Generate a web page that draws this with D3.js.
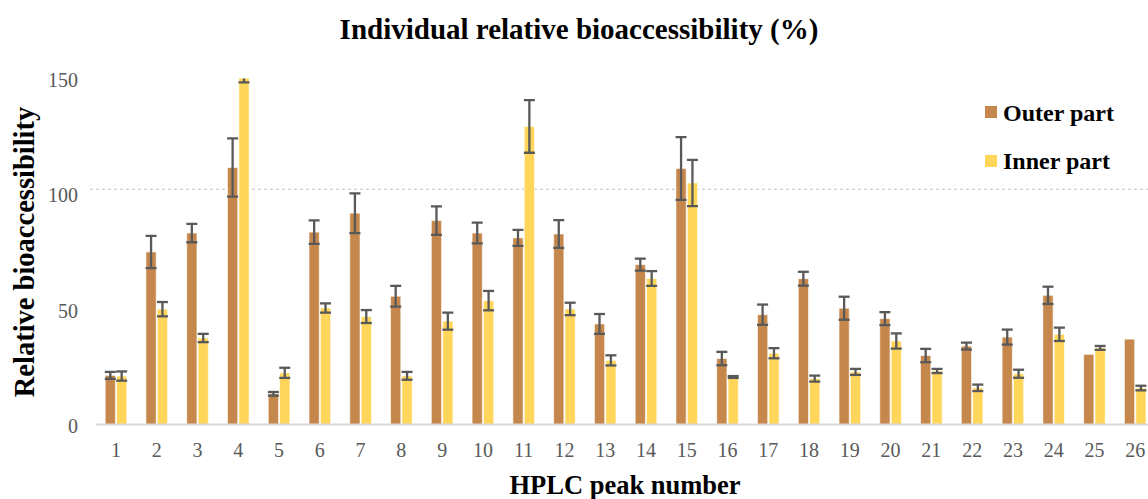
<!DOCTYPE html>
<html>
<head>
<meta charset="utf-8">
<script src="https://cdn.jsdelivr.net/npm/d3@7.9.0/dist/d3.min.js"></script>
<style>
  body { margin: 0; background: #fff; }
  svg { display: block; font-family: "Liberation Serif", "Times New Roman", serif; }
</style>
</head>
<body>
<svg id="chart" width="1148" height="499"></svg>
<script>
const peaks = d3.range(1, 27).map(String);
const series = ['Outer part', 'Inner part'];
const outerVals = [21.3, 74.8, 83, 111.4, 13.3, 83.4, 91.6, 55.6, 88.4, 83, 80.9, 82.6, 43.6, 69.3, 111, 28.6, 47.6, 63.2, 50.4, 45.9, 29.9, 34, 37.9, 56, 30.4, 37];
const outerErr  = [1.5, 7, 4, 12.6, 0.8, 5.1, 8.6, 4.5, 6.2, 4.5, 3.5, 6, 4.3, 2.6, 13.6, 2.9, 4.4, 3, 5, 2.8, 2.9, 1.5, 3.25, 3.75, 0, 0];
const innerVals = [21, 50, 37.5, 153, 22.4, 50.5, 46.8, 21.1, 44.8, 53.7, 129.2, 50.1, 27.8, 63.3, 104.7, 20.6, 30.9, 19.9, 22.8, 36.2, 23.2, 15.9, 22, 39.1, 33.2, 15.8];
const innerErr  = [2, 3.1, 1.8, 4.7, 2.2, 2, 2.8, 1.7, 3.7, 4.2, 11.4, 2.7, 2.2, 3.2, 10, 0.4, 2.2, 1.3, 1.3, 3.3, 0.9, 1.4, 1.75, 2.9, 0.85, 1];
const yTicks = [0, 50, 100, 150];
const refLine = 102;
const colors = ['#C5874B', '#FFD55A'];

const svg = d3.select('#chart');
const y = d3.scaleLinear().domain([0, 150]).range([424.5, 78.5]);
const x = d3.scaleBand().domain(peaks).range([95.6, 1155.6]).paddingInner(0.47).paddingOuter(0.235);
const xs = d3.scaleBand().domain(series).range([0, x.bandwidth()]).paddingInner(0.1);

const rows = [];
peaks.forEach((p, i) => {
    rows.push({ peak: p, s: series[0], v: outerVals[i], e: outerErr[i] });
    rows.push({ peak: p, s: series[1], v: innerVals[i], e: innerErr[i] });
});

// title
svg.append('text')
    .attr('x', 579).attr('y', 38.5)
    .attr('text-anchor', 'middle')
    .attr('font-size', 29).attr('font-weight', 'bold')
    .text('Individual relative bioaccessibility (%)');

// reference dotted line
svg.append('line')
    .attr('x1', 90).attr('x2', 1148)
    .attr('y1', y(refLine)).attr('y2', y(refLine))
    .attr('stroke', '#bfbfbf').attr('stroke-width', 1)
    .attr('stroke-dasharray', '3,3');

// y axis labels
const yAxis = svg.append('g')
    .attr('transform', 'translate(78,0)')
    .call(d3.axisLeft(y).tickValues(yTicks).tickSize(0).tickPadding(0));
yAxis.select('.domain').remove();
yAxis.selectAll('text')
    .attr('font-family', '"Liberation Serif", serif')
    .attr('font-size', 20).attr('fill', '#595959')
    .attr('dy', '0.4em');

svg.append('defs').append('clipPath').attr('id', 'plotclip')
    .append('rect').attr('x', 0).attr('y', y(150)).attr('width', 1148).attr('height', 499);

const plot = svg.append('g').attr('clip-path', 'url(#plotclip)');

plot.selectAll('rect.bar')
    .data(rows)
    .join('rect')
    .attr('class', 'bar')
    .attr('x', d => x(d.peak) + xs(d.s))
    .attr('width', xs.bandwidth())
    .attr('y', d => y(d.v))
    .attr('height', d => y(0) - y(d.v))
    .attr('fill', d => colors[series.indexOf(d.s)])
    .attr('stroke', '#fff').attr('stroke-opacity', 0.6).attr('stroke-width', 1);

// error bars
const errs = plot.selectAll('g.err')
    .data(rows.filter(d => d.e > 0))
    .join('g')
    .attr('class', 'err')
    .attr('transform', d => `translate(${x(d.peak) + xs(d.s) + xs.bandwidth() / 2},0)`)
    .attr('stroke', '#595959').attr('stroke-width', 2.3);
errs.append('line')
    .attr('y1', d => y(d.v + d.e)).attr('y2', d => y(d.v - d.e));
errs.append('line')
    .attr('x1', -5.5).attr('x2', 5.5)
    .attr('y1', d => y(d.v + d.e)).attr('y2', d => y(d.v + d.e));
errs.append('line')
    .attr('x1', -5.5).attr('x2', 5.5)
    .attr('y1', d => y(d.v - d.e)).attr('y2', d => y(d.v - d.e));

// x axis
const xAxis = svg.append('g')
    .attr('transform', `translate(0,${y(0)})`)
    .call(d3.axisBottom(x).tickSize(0).tickPadding(18));
xAxis.select('.domain')
    .attr('d', `M96,0H1148`)
    .attr('stroke', '#d9d9d9').attr('stroke-width', 2);
xAxis.selectAll('text')
    .attr('font-family', '"Liberation Serif", serif')
    .attr('font-size', 20).attr('fill', '#595959');

// axis titles
svg.append('text')
    .attr('x', 625).attr('y', 494)
    .attr('text-anchor', 'middle')
    .attr('font-size', 26.5).attr('font-weight', 'bold')
    .text('HPLC peak number');
svg.append('text')
    .attr('transform', 'translate(33.5,252) rotate(-90)')
    .attr('text-anchor', 'middle')
    .attr('font-size', 28.5).attr('font-weight', 'bold')
    .text('Relative bioaccessibility');

// legend
const legend = svg.append('g').attr('transform', 'translate(985,106)');
series.forEach((s, i) => {
    const g = legend.append('g').attr('transform', `translate(0,${i * 48})`);
    g.append('rect').attr('y', i * 1).attr('width', 12).attr('height', 12).attr('fill', colors[i]);
    g.append('text')
        .attr('x', 18).attr('y', 15)
        .attr('font-size', 24).attr('font-weight', 'bold')
        .text(s);
});
</script>
</body>
</html>
